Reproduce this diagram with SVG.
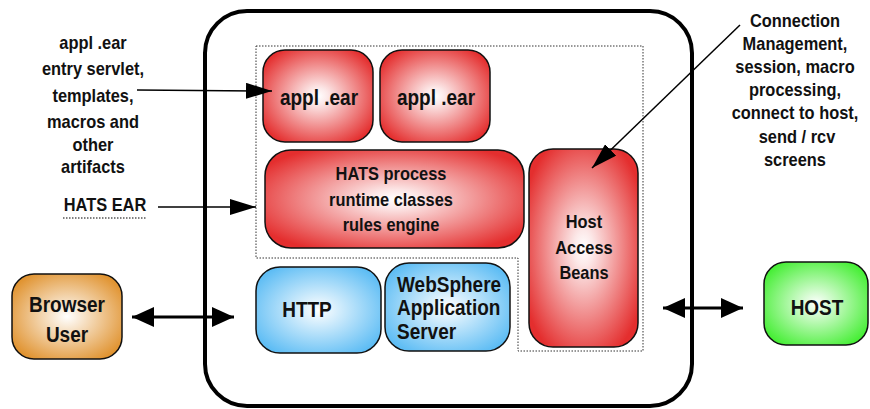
<svg xmlns="http://www.w3.org/2000/svg" width="870" height="409" viewBox="0 0 870 409">
<style>
text{font-family:"Liberation Sans",Arial,sans-serif;font-weight:bold;fill:#111;text-anchor:middle;transform-box:fill-box;transform-origin:50% 60%;transform:scaleY(1.12)}
.lbl{font-size:16.4px}
.nd{font-size:19px}
.box{stroke:#111;stroke-width:1.5}
.thin{stroke:#000;stroke-width:1.5;fill:none}
.thick{stroke:#000;stroke-width:3;fill:none}
</style>
<defs>
<radialGradient id="gr" cx="50%" cy="50%" r="60%"><stop offset="0" stop-color="#ffffff"/><stop offset="0.15" stop-color="#fce8e8"/><stop offset="1" stop-color="#e42e2e"/></radialGradient>
<radialGradient id="gb" cx="50%" cy="50%" r="60%"><stop offset="0" stop-color="#ffffff"/><stop offset="1" stop-color="#5cbcf4"/></radialGradient>
<radialGradient id="go" cx="50%" cy="50%" r="60%"><stop offset="0" stop-color="#ffffff"/><stop offset="1" stop-color="#e0922e"/></radialGradient>
<radialGradient id="gg" cx="50%" cy="50%" r="60%"><stop offset="0" stop-color="#ffffff"/><stop offset="1" stop-color="#44ee33"/></radialGradient>
<marker id="ah" markerUnits="userSpaceOnUse" markerWidth="26" markerHeight="16" viewBox="0 0 26 16" refX="26" refY="8" orient="auto"><path d="M0,0 L26,8 L0,16 Z" fill="#000"/></marker>
<marker id="ahb" markerUnits="userSpaceOnUse" markerWidth="22" markerHeight="20" viewBox="0 0 22 20" refX="22" refY="10" orient="auto"><path d="M0,0 L22,10 L0,20 Z" fill="#000"/></marker>
<marker id="ahs" markerUnits="userSpaceOnUse" markerWidth="22" markerHeight="20" viewBox="0 0 22 20" refX="0" refY="10" orient="auto"><path d="M22,0 L0,10 L22,20 Z" fill="#000"/></marker>
</defs>
<rect width="870" height="409" fill="#fff"/>

<g id="container">
<rect x="205" y="11" width="487" height="395" rx="42" fill="none" stroke="#000" stroke-width="4"/>
</g>
<g id="hats-ear-outline">
<path d="M256,46 H643 V351 H518 V258 H256 Z" fill="none" stroke="#333" stroke-width="1" stroke-dasharray="1.5,1.5"/>
</g>

<g id="appl1">
<rect class="box" x="263" y="50" width="110" height="92" rx="22" fill="url(#gr)"/>
<text class="nd" x="319" y="104">appl .ear</text>
</g>
<g id="appl2">
<rect class="box" x="380" y="50" width="110" height="92" rx="22" fill="url(#gr)"/>
<text class="nd" x="436" y="104">appl .ear</text>
</g>
<g id="hats-process">
<rect class="box" x="265" y="150" width="259" height="98" rx="26" fill="url(#gr)"/>
<text class="lbl" x="391" y="180">HATS process</text>
<text class="lbl" x="391" y="206">runtime classes</text>
<text class="lbl" x="391" y="231">rules engine</text>
</g>
<g id="host-access-beans">
<rect class="box" x="529" y="149" width="109" height="198" rx="24" fill="url(#gr)"/>
<text class="lbl" x="584" y="228">Host</text>
<text class="lbl" x="584" y="254">Access</text>
<text class="lbl" x="584" y="279">Beans</text>
</g>
<g id="http">
<rect class="box" x="256" y="267" width="125" height="86" rx="24" fill="url(#gb)"/>
<text class="nd" x="307" y="316">HTTP</text>
</g>
<g id="websphere">
<rect class="box" x="385" y="263" width="125" height="88" rx="24" fill="url(#gb)"/>
<text class="nd" x="397" y="291" style="text-anchor:start">WebSphere</text>
<text class="nd" x="397" y="314" style="text-anchor:start">Application</text>
<text class="nd" x="397" y="338" style="text-anchor:start">Server</text>
</g>
<g id="browser">
<rect class="box" x="12" y="274" width="110" height="85" rx="22" fill="url(#go)"/>
<text class="nd" x="67" y="311">Browser</text>
<text class="nd" x="67" y="341">User</text>
</g>
<g id="host">
<rect class="box" x="764" y="262" width="104" height="83" rx="22" fill="url(#gg)"/>
<text class="nd" x="817" y="314">HOST</text>
</g>

<g id="labels">
<text class="lbl" x="93" y="49">appl .ear</text>
<text class="lbl" x="93" y="75">entry servlet,</text>
<text class="lbl" x="93" y="102">templates,</text>
<text class="lbl" x="93" y="128">macros and</text>
<text class="lbl" x="93" y="151">other</text>
<text class="lbl" x="93" y="173">artifacts</text>
<text class="lbl" x="105" y="211">HATS EAR</text>
<line x1="63" y1="218" x2="146" y2="218" stroke="#000" stroke-width="1" stroke-dasharray="1.5,1.5"/>
<text class="lbl" x="795" y="27">Connection</text>
<text class="lbl" x="795" y="50">Management,</text>
<text class="lbl" x="795" y="73">session, macro</text>
<text class="lbl" x="795" y="96">processing,</text>
<text class="lbl" x="795" y="119">connect to host,</text>
<text class="lbl" x="797" y="143">send / rcv</text>
<text class="lbl" x="795" y="166">screens</text>
</g>

<g id="connectors">
<line class="thin" x1="137" y1="90" x2="272" y2="91" marker-end="url(#ah)"/>
<line class="thin" x1="158" y1="207" x2="256" y2="207" marker-end="url(#ah)"/>
<line class="thin" x1="740" y1="25" x2="592" y2="168" marker-end="url(#ah)"/>
<line class="thick" x1="132" y1="317" x2="234" y2="317" marker-start="url(#ahs)" marker-end="url(#ahb)"/>
<line class="thick" x1="663" y1="308" x2="743" y2="308" marker-start="url(#ahs)" marker-end="url(#ahb)"/>
</g>
</svg>
